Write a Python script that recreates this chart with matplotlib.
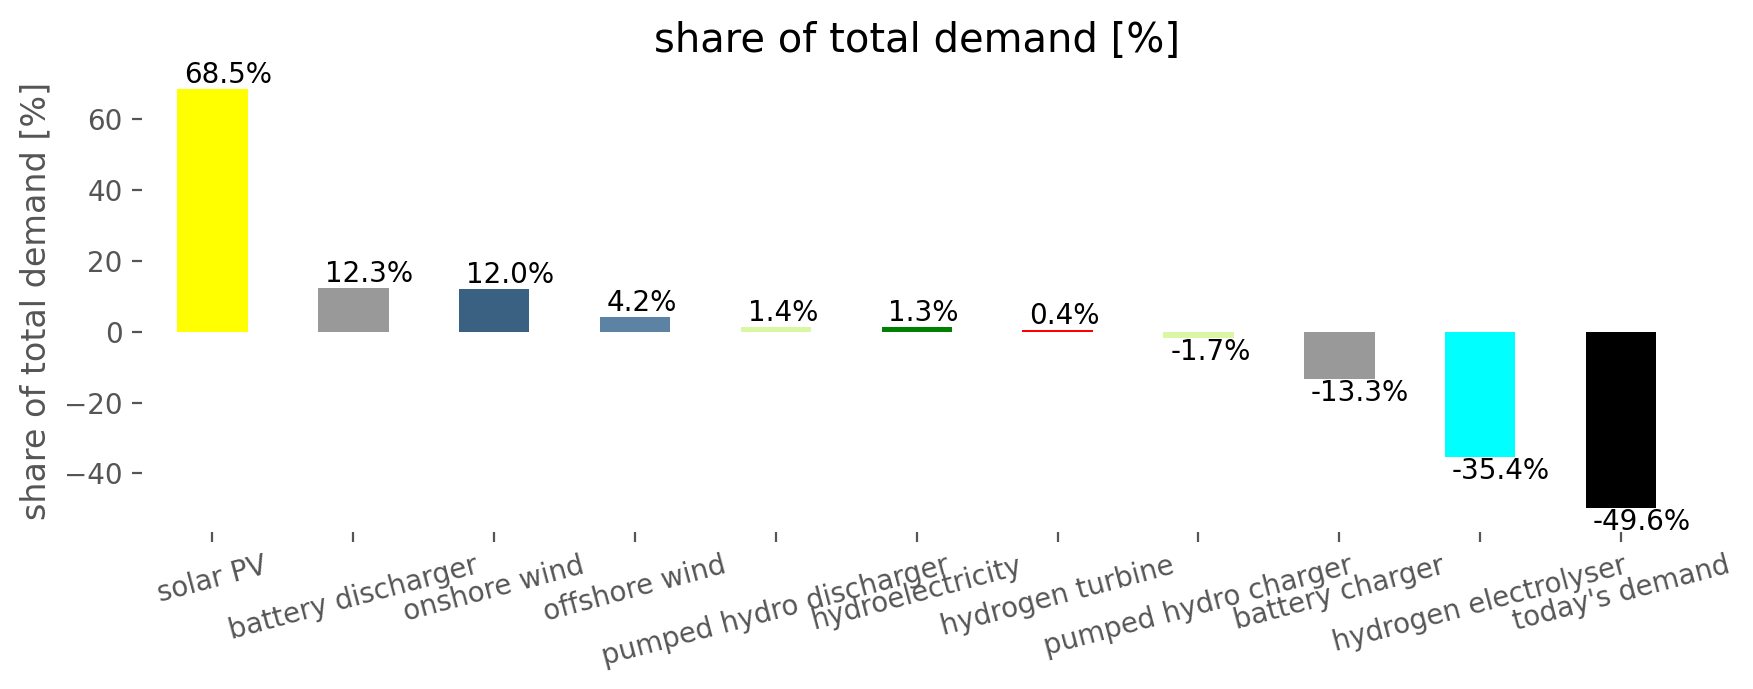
import numpy as np
import matplotlib
matplotlib.use('Agg')
import matplotlib.pyplot as plt

# share of total demand per technology [%]
technologies = ['solar PV', 'battery discharger', 'onshore wind', 'offshore wind',
                'pumped hydro discharger', 'hydroelectricity', 'hydrogen turbine',
                'pumped hydro charger', 'battery charger', 'hydrogen electrolyser',
                "today's demand"]
shares = [68.5, 12.3, 12.0, 4.2, 1.4, 1.3, 0.4, -1.7, -13.3, -35.4, -49.6]
barColors = ['#ffff00', '#999999', '#3b6182', '#5c83a3', '#daf7a6', '#008000',
             '#ff0000', '#daf7a6', '#999999', '#00ffff', '#000000']

fig = plt.figure(figsize=(8.765, 3.445), dpi=200)
ax = fig.add_axes([0.081, 0.2279, 0.8839, 0.672])

x = np.arange(len(technologies))
bars = ax.bar(x, shares, width=0.5, color=barColors)

for b, v in zip(bars, shares):
    if v >= 0:
        ax.annotate('%.1f%%' % v, (b.get_x(), v), xytext=(2.5, 0),
                    textcoords='offset points', ha='left', va='bottom',
                    fontsize=10, color='black')
    else:
        ax.annotate('%.1f%%' % v, (b.get_x(), v), xytext=(2.5, 0),
                    textcoords='offset points', ha='left', va='top',
                    fontsize=10, color='black')

ax.set_xlim(-0.5, len(technologies) - 0.5)
ax.set_ylim(-56.5, 74.1)
ax.set_xticks(x)
ax.set_xticklabels(technologies, rotation=15, ha='center')
ax.set_yticks([-40, -20, 0, 20, 40, 60])
ax.tick_params(colors='#555555', labelsize=10, direction='out')
for s in ax.spines.values():
    s.set_visible(False)

ax.set_ylabel('share of total demand [%]', fontsize=12, color='#555555')
ax.set_title('share of total demand [%]', fontsize=14.4)

fig.savefig('out.png', dpi=200)
plt.close(fig)
